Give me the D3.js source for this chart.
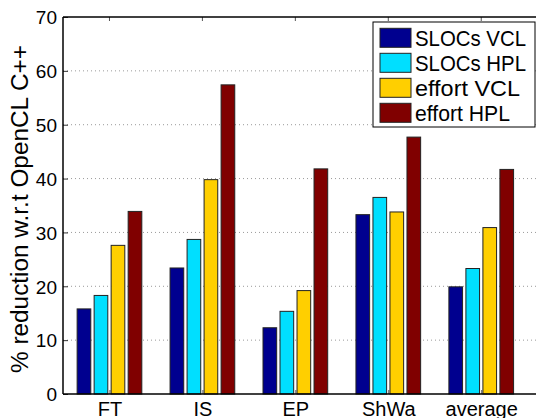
<!DOCTYPE html>
<html>
<head>
<meta charset="utf-8">
<script src="https://cdn.jsdelivr.net/npm/d3@7"></script>
<style>
  body { margin: 0; background: #fff; }
  svg { display: block; font-family: "Liberation Sans", Arial, sans-serif; }
</style>
</head>
<body>
<svg id="chart" width="536" height="418"></svg>
<script>
// benchmarks and series
const categories = ['FT', 'IS', 'EP', 'ShWa', 'average']
const seriesNames = ['SLOCs VCL', 'SLOCs HPL', 'effort VCL', 'effort HPL']
const seriesColors = ['#00008f', '#00dfff', '#ffcf00', '#800000']
const slocsVCL = [15.8, 23.4, 12.3, 33.3, 19.9]
const slocsHPL = [18.3, 28.7, 15.35, 36.5, 23.3]
const effortVCL = [27.6, 39.8, 19.2, 33.8, 30.9]
const effortHPL = [33.9, 57.4, 41.8, 47.7, 41.7]
const yTicks = [0, 10, 20, 30, 40, 50, 60, 70]

const series = [slocsVCL, slocsHPL, effortVCL, effortHPL]

const MARGIN = {left: 63, top: 17, right: 537, bottom: 394}
let svg = d3.select('#chart')

// categories sit at 1..5 like a matlab bar plot
let x = d3.scaleLinear().domain([0.5, 5.6]).range([MARGIN.left, MARGIN.right])
let y = d3.scaleLinear().domain([0, 70]).range([MARGIN.bottom, MARGIN.top])

// dotted grid
svg.append('g')
  .selectAll('line')
  .data(yTicks.slice(1, -1))
  .enter().append('line')
  .attr('x1', MARGIN.left).attr('x2', MARGIN.right)
  .attr('y1', d => y(d)).attr('y2', d => y(d))
  .attr('stroke', '#9a9a9a')
  .attr('stroke-width', 1)
  .attr('stroke-dasharray', '1,3')

// bars
const BAR_STEP = 0.183
const BAR_WIDTH = 0.147
let barData = []
series.forEach(function(vals, s) {
  vals.forEach(function(v, i) {
    barData.push({s: s, i: i, value: v})
  })
})
svg.append('g')
  .selectAll('rect')
  .data(barData)
  .enter().append('rect')
  .attr('x', d => x(barCenter(d) - BAR_WIDTH / 2))
  .attr('width', x(BAR_WIDTH) - x(0))
  .attr('y', d => y(d.value))
  .attr('height', d => y(0) - y(d.value))
  .attr('fill', d => seriesColors[d.s])
  .attr('stroke', '#222')
  .attr('stroke-width', 1)

function barCenter(d) {
  return d.i + 1 + (d.s - 1.5) * BAR_STEP
}

// axes
let yAxis = d3.axisLeft(y).tickValues(yTicks).tickSize(-5).tickPadding(6).tickFormat(d3.format('d'))
let yg = svg.append('g')
  .attr('transform', 'translate(' + MARGIN.left + ',0)')
  .call(yAxis)
yg.select('.domain').remove()
yg.selectAll('line').attr('stroke', '#333')
yg.selectAll('text').attr('font-size', 19).attr('fill', '#000').attr('dy', '0.36em')

let xAxis = d3.axisBottom(x).tickValues(d3.range(1, 6)).tickSize(-4).tickPadding(0)
  .tickFormat(d => categories[d - 1])
let xg = svg.append('g')
  .attr('transform', 'translate(0,' + MARGIN.bottom + ')')
  .call(xAxis)
xg.select('.domain').remove()
xg.selectAll('line').attr('stroke', '#555')
xg.selectAll('text')
  .attr('font-size', 20).attr('fill', '#000')
  .attr('y', 21.5).attr('dy', null)

// top ticks
svg.append('g')
  .selectAll('line')
  .data(d3.range(1, 6))
  .enter().append('line')
  .attr('x1', d => x(d)).attr('x2', d => x(d))
  .attr('y1', MARGIN.top).attr('y2', MARGIN.top + 4)
  .attr('stroke', '#555')

// frame
svg.append('line')
  .attr('x1', MARGIN.left).attr('x2', MARGIN.right)
  .attr('y1', MARGIN.bottom).attr('y2', MARGIN.bottom)
  .attr('stroke', '#000').attr('stroke-width', 1.5)
svg.append('line')
  .attr('x1', MARGIN.left).attr('x2', MARGIN.right)
  .attr('y1', MARGIN.top).attr('y2', MARGIN.top)
  .attr('stroke', '#000').attr('stroke-width', 1.5)
svg.append('line')
  .attr('x1', MARGIN.left).attr('x2', MARGIN.left)
  .attr('y1', MARGIN.top).attr('y2', MARGIN.bottom)
  .attr('stroke', '#000').attr('stroke-width', 1.5)

// y label
svg.append('text')
  .attr('transform', 'translate(28,209) rotate(-90)')
  .attr('text-anchor', 'middle')
  .attr('font-size', 23)
  .attr('textLength', 328)
  .attr('lengthAdjust', 'spacingAndGlyphs')
  .text('% reduction w.r.t OpenCL C++')

// legend
const LEGEND_TEXT_WIDTHS = [111, 111, 105, 95]
let legend = svg.append('g').attr('transform', 'translate(373,22)')
legend.append('rect')
  .attr('width', 162).attr('height', 105)
  .attr('fill', '#fff').attr('stroke', '#000').attr('stroke-width', 1)
let rows = legend.selectAll('.row')
  .data(seriesNames)
  .enter().append('g')
  .attr('transform', (d, i) => 'translate(0,' + (6.3 + i * 25) + ')')
rows.append('rect')
  .attr('x', 7).attr('width', 31).attr('height', 19)
  .attr('fill', (d, i) => seriesColors[i])
  .attr('stroke', '#222')
rows.append('text')
  .attr('x', 42).attr('y', 17.5)
  .attr('font-size', 22)
  .attr('textLength', (d, i) => LEGEND_TEXT_WIDTHS[i])
  .attr('lengthAdjust', 'spacingAndGlyphs')
  .text(d => d)
</script>
</body>
</html>
